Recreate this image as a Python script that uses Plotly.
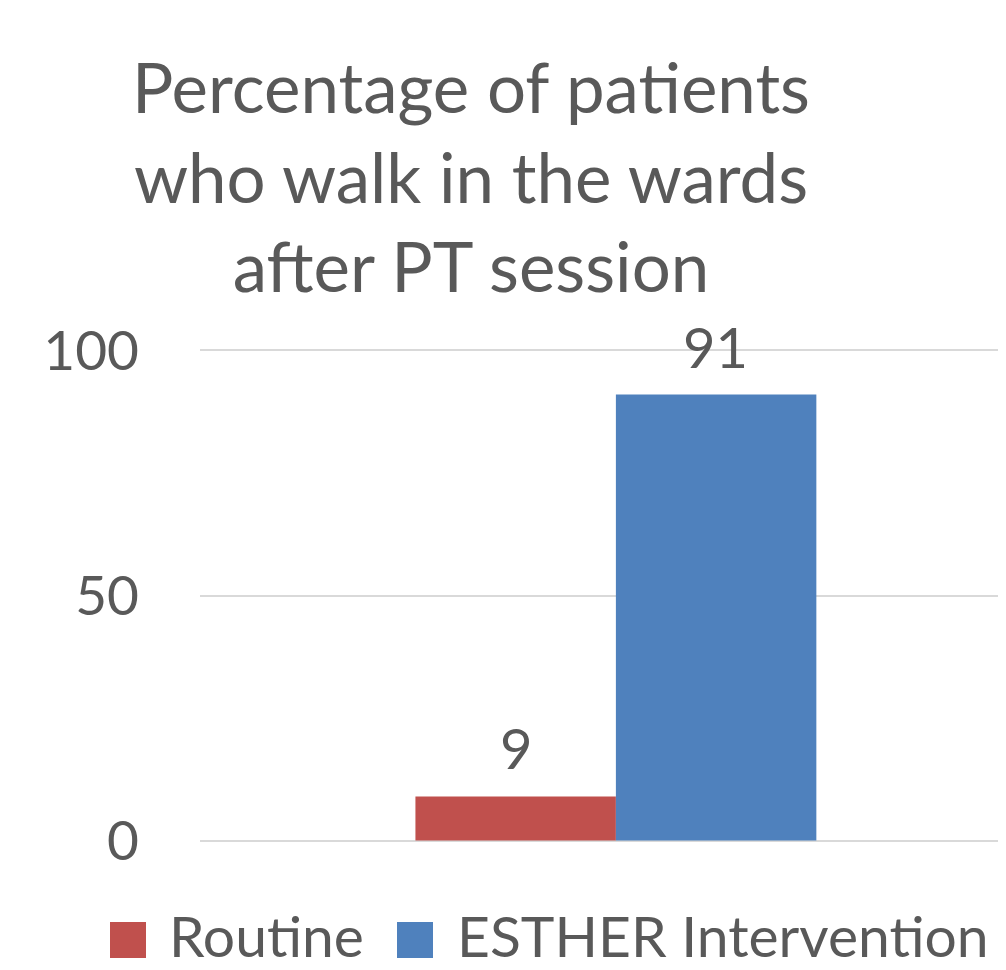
import plotly.graph_objects as go

categories = ["Percentage"]
series_names = ["Routine", "ESTHER Intervention"]
routine_values = [9]
esther_values = [91]
colors = ["#C0504D", "#4F81BD"]
y_ticks = [0, 50, 100]
title_text = "Percentage of patients<br>who walk in the wards<br>after PT session"

FONT = "Lato"
TXT = "#595959"

W, H = 998, 962
ML, MT, MB = 192, 341, 128
PW = W - ML
PH = H - MT - MB


def px_x(fx):
    return (fx - ML) / PW


def px_y(fy):
    return (H - MB - fy) / PH


fig = go.Figure()
all_vals = [routine_values, esther_values]
for name, vals, col in zip(series_names, all_vals, colors):
    fig.add_trace(go.Bar(x=categories, y=vals, name=name, marker_color=col,
                         marker_line_width=0, showlegend=False))

# data labels above bars
for i, vals in enumerate(all_vals):
    for c, v in zip(categories, vals):
        fig.add_annotation(x=c, y=v, text=str(v), showarrow=False,
                           xshift=(-100 if i == 0 else 100), yshift=13,
                           yanchor="bottom", xanchor="center",
                           font=dict(family=FONT, size=56, color=TXT))

# title
fig.add_annotation(xref="paper", yref="paper", x=px_x(463), y=px_y(168),
                   text=title_text, showarrow=False, xanchor="center",
                   yanchor="middle", align="center",
                   font=dict(family=FONT, size=69, color=TXT))

# legend (custom, large squares)
sq_left = [102, 389]
txt_left = [159, 447]
for name, col, sl, tl in zip(series_names, colors, sq_left, txt_left):
    fig.add_shape(type="rect", xref="paper", yref="paper",
                  x0=px_x(sl), x1=px_x(sl + 36), y0=px_y(950), y1=px_y(914),
                  fillcolor=col, line_width=0)
    fig.add_annotation(xref="paper", yref="paper", x=px_x(tl), y=px_y(927),
                       text=name, showarrow=False, xanchor="left", yanchor="middle",
                       font=dict(family=FONT, size=57, color=TXT))

fig.update_layout(
    width=W, height=H,
    margin=dict(l=ML, r=0, t=MT, b=MB, autoexpand=False),
    barmode="group", bargap=0.518, bargroupgap=0,
    plot_bgcolor="white", paper_bgcolor="white",
    xaxis=dict(range=[-0.5, 0.469], showticklabels=False, showgrid=False,
               zeroline=False, showline=False),
    yaxis=dict(range=[-0.3, 100.3], tickvals=y_ticks, showgrid=True, gridcolor="#D9D9D9",
               gridwidth=2, zeroline=True, zerolinecolor="#D9D9D9", zerolinewidth=2,
               showline=False, ticks="",
               tickfont=dict(family=FONT, size=55, color=TXT), ticklabelstandoff=60),
    showlegend=False,
)
fig.write_html("out.html")
